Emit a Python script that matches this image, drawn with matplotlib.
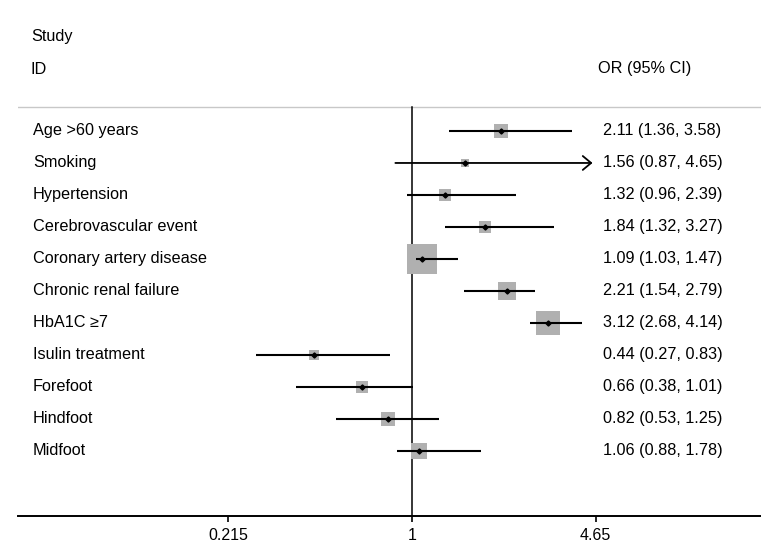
import matplotlib

matplotlib.use("Agg")
import matplotlib.pyplot as plt
import numpy as np
from matplotlib.transforms import blended_transform_factory

plt.rcParams["font.family"] = ["Liberation Sans", "DejaVu Sans"]

studies = [
    "Age >60 years",
    "Smoking",
    "Hypertension",
    "Cerebrovascular event",
    "Coronary artery disease",
    "Chronic renal failure",
    "HbA1C \u22657",
    "Isulin treatment",
    "Forefoot",
    "Hindfoot",
    "Midfoot",
]
odds_ratio = [2.11, 1.56, 1.32, 1.84, 1.09, 2.21, 3.12, 0.44, 0.66, 0.82, 1.06]
ci_low = [1.36, 0.87, 0.96, 1.32, 1.03, 1.54, 2.68, 0.27, 0.38, 0.53, 0.88]
# upper ends as drawn (Age line runs a bit past its printed 3.58)
ci_high = [3.81, 4.65, 2.39, 3.27, 1.47, 2.79, 4.14, 0.83, 1.01, 1.25, 1.78]
ci_text = [
    "2.11 (1.36, 3.58)",
    "1.56 (0.87, 4.65)",
    "1.32 (0.96, 2.39)",
    "1.84 (1.32, 3.27)",
    "1.09 (1.03, 1.47)",
    "2.21 (1.54, 2.79)",
    "3.12 (2.68, 4.14)",
    "0.44 (0.27, 0.83)",
    "0.66 (0.38, 1.01)",
    "0.82 (0.53, 1.25)",
    "1.06 (0.88, 1.78)",
]
# box weights (%), read from the square areas
weights = [5.36, 2.40, 5.11, 4.95, 29.49, 10.62, 19.34, 3.36, 4.79, 6.47, 8.12]
x_ticks = [0.215, 1, 4.65]
x_tick_labels = ["0.215", "1", "4.65"]

W, H, DPI = 761, 544, 100
px_decade = 275.0
x_null_px = 412.0
axis_left_px, axis_y_px = 18.0, 515.7
row0_px, row_step_px = 131.0, 31.97

fig = plt.figure(figsize=(W / DPI, H / DPI), dpi=DPI, facecolor="white")
ax = fig.add_axes(
    [axis_left_px / W, (H - axis_y_px) / H, 1 - axis_left_px / W, axis_y_px / H]
)
ax.set_xscale("log")
ax.set_xlim(
    10 ** ((axis_left_px - x_null_px) / px_decade),
    10 ** ((W - x_null_px) / px_decade),
)
ax.set_ylim((axis_y_px - row0_px) / row_step_px, -row0_px / row_step_px)
for side in ("top", "left", "right"):
    ax.spines[side].set_visible(False)
ax.spines["bottom"].set_linewidth(1.4)
ax.set_yticks([])
ax.set_xticks(x_ticks)
ax.set_xticklabels(x_tick_labels, fontsize=11.5)
ax.minorticks_off()
ax.tick_params(axis="x", length=4, width=1.2, pad=5)

rows = np.arange(len(studies))
x_max = max(x_ticks)

# header rule and null line
header_row = (106.7 - row0_px) / row_step_px
ax.axhline(header_row, color="#c8c8c8", lw=1.0)
ax.plot([1, 1], [header_row, ax.get_ylim()[0]], color="black", lw=1.1, zorder=2)

box_scale = 30.5 / np.sqrt(max(weights)) * 0.72
for r, est, lo, hi, w in zip(rows, odds_ratio, ci_low, ci_high, weights):
    ax.scatter(est, r, marker="s", s=(box_scale * np.sqrt(w)) ** 2,
               color="#b0b0b0", linewidths=0, zorder=3)
    if hi >= x_max:
        ax.annotate(
            "", xy=(x_max * 0.975, r), xytext=(lo, r),
            arrowprops=dict(arrowstyle="->,head_length=0.6,head_width=0.5",
                            lw=1.3, color="black", shrinkA=0, shrinkB=0,
                            mutation_scale=10),
            zorder=4,
        )
    else:
        ax.plot([lo, hi], [r, r], color="black", lw=1.5,
                solid_capstyle="butt", zorder=4)
    ax.plot(est, r, marker="D", ms=2.6, color="black", zorder=5)

text_tf = blended_transform_factory(fig.transFigure, ax.transData)
for r, name, label in zip(rows, studies, ci_text):
    ax.text(33 / W, r, name, transform=text_tf, va="center", ha="left",
            fontsize=11.7)
    ax.text(603 / W, r, label, transform=text_tf, va="center", ha="left",
            fontsize=11.7)

ax.text(31 / W, (37 - row0_px) / row_step_px, "Study", transform=text_tf,
        va="center", ha="left", fontsize=11.7)
ax.text(31 / W, (69 - row0_px) / row_step_px, "ID", transform=text_tf,
        va="center", ha="left", fontsize=11.7)
ax.text(598 / W, (69 - row0_px) / row_step_px, "OR (95% CI)", transform=text_tf,
        va="center", ha="left", fontsize=11.7)

fig.savefig("out.png", dpi=DPI, facecolor="white")
